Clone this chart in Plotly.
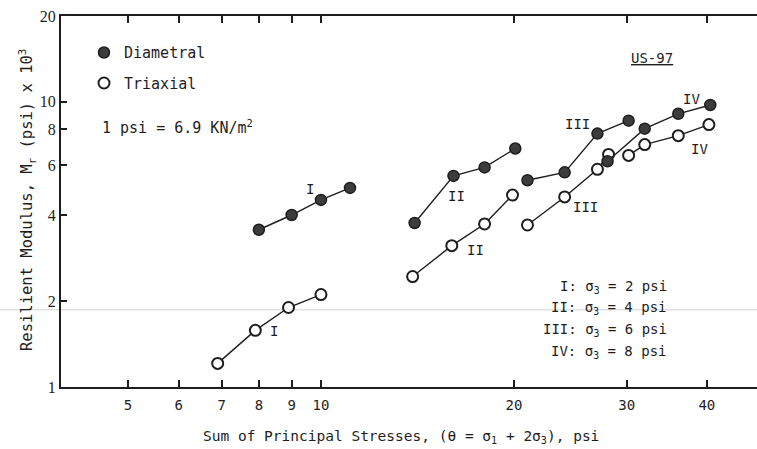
import math
import plotly.graph_objects as go

# ---------------- data ----------------
group_labels = ["I", "II", "III", "IV"]
sigma3_psi = [2, 4, 6, 8]

diam_x = {
    "I": [8, 9, 10, 11.1],
    "II": [14, 16.1, 18, 20.1],
    "III": [21, 24, 27, 30.2],
    "IV": [28, 32, 36.1, 40.5],
}
diam_y = {
    "I": [3.56, 4.01, 4.53, 4.99],
    "II": [3.76, 5.50, 5.89, 6.86],
    "III": [5.31, 5.66, 7.74, 8.59],
    "IV": [6.19, 8.05, 9.08, 9.75],
}
tri_x = {
    "I": [6.9, 7.9, 8.9, 10],
    "II": [13.9, 16, 18, 19.9],
    "III": [21, 24, 27, 28.1],
    "IV": [30.2, 32, 36.1, 40.3],
}
tri_y = {
    "I": [1.21, 1.58, 1.90, 2.11],
    "II": [2.44, 3.13, 3.73, 4.71],
    "III": [3.70, 4.64, 5.80, 6.54],
    "IV": [6.49, 7.08, 7.61, 8.32],
}
# label anchor points (x, y in data units)
diam_label_pos = {"I": (9.6, 4.95), "II": (16.3, 4.67), "III": (25.1, 8.38), "IV": (37.9, 10.2)}
tri_label_pos = {"I": (8.45, 1.57), "II": (17.4, 3.03), "III": (25.9, 4.28), "IV": (38.9, 6.86)}

x_ticks = [5, 6, 7, 8, 9, 10, 20, 30, 40]
y_ticks = [1, 2, 4, 6, 8, 10, 20]
x_range = [3.93, 47.9]
y_range = [1, 20]

# ---------------- layout geometry ----------------
W, H = 757, 449
PL, PR, PT, PB = 61, 757, 15.7, 387.3


def px(xp):
    return (xp - PL) / (PR - PL)


def py(yp):
    return (PB - yp) / (PB - PT)


MONO = "DejaVu Sans Mono"
SERIF = "Liberation Serif"
INK = "#1e1e1e"

fig = go.Figure()

for g in group_labels:
    fig.add_trace(go.Scatter(
        x=tri_x[g], y=tri_y[g], mode="lines+markers", showlegend=False,
        line=dict(color=INK, width=1.4),
        marker=dict(symbol="circle", size=11, color="white",
                    line=dict(color=INK, width=2)),
    ))
for g in group_labels:
    fig.add_trace(go.Scatter(
        x=diam_x[g], y=diam_y[g], mode="lines+markers", showlegend=False,
        line=dict(color=INK, width=1.4),
        marker=dict(symbol="circle", size=11, color="#3c3c3c",
                    line=dict(color=INK, width=1.5)),
    ))

# legend entries
fig.add_trace(go.Scatter(
    x=[None], y=[None], mode="markers", name="Diametral", legendgroup="d",
    marker=dict(symbol="circle", size=11, color="#3c3c3c", line=dict(color=INK, width=1.5)),
))
fig.add_trace(go.Scatter(
    x=[None], y=[None], mode="markers", name="Triaxial", legendgroup="t",
    marker=dict(symbol="circle", size=11, color="white", line=dict(color=INK, width=2)),
))

annotations = []
for g in group_labels:
    lx, ly = diam_label_pos[g]
    annotations.append(dict(x=math.log10(lx), y=math.log10(ly), xref="x", yref="y",
                            text=g, showarrow=False,
                            font=dict(family=MONO, size=14, color=INK)))
    lx, ly = tri_label_pos[g]
    annotations.append(dict(x=math.log10(lx), y=math.log10(ly), xref="x", yref="y",
                            text=g, showarrow=False,
                            font=dict(family=MONO, size=14, color=INK)))

annotations.append(dict(x=px(100), y=py(127), xref="paper", yref="paper",
                        xanchor="left", yanchor="middle", showarrow=False,
                        text="1 psi = 6.9 KN/m<sup>2</sup>",
                        font=dict(family=MONO, size=15, color=INK)))
annotations.append(dict(x=px(652), y=py(58), xref="paper", yref="paper",
                        xanchor="center", yanchor="middle", showarrow=False,
                        text="<u>US-97</u>",
                        font=dict(family=MONO, size=14, color=INK)))

line_y = [287, 308, 330, 352]
for g, s, yp in zip(group_labels, sigma3_psi, line_y):
    annotations.append(dict(x=px(669), y=py(yp), xref="paper", yref="paper",
                            xanchor="right", yanchor="middle", showarrow=False,
                            text=f"{g}: σ<sub>3</sub> = {s} psi",
                            font=dict(family=MONO, size=14, color=INK)))

annotations.append(dict(x=px(401), y=py(437), xref="paper", yref="paper",
                        xanchor="center", yanchor="middle", showarrow=False,
                        text="Sum of Principal Stresses, (θ = σ<sub>1</sub> + 2σ<sub>3</sub>), psi",
                        font=dict(family=MONO, size=14.5, color=INK)))
annotations.append(dict(x=px(27), y=py(200), xref="paper", yref="paper",
                        xanchor="center", yanchor="middle", showarrow=False, textangle=-90,
                        text="Resilient Modulus, M<sub>r</sub> (psi) x 10<sup>3</sup>",
                        font=dict(family=MONO, size=15.5, color=INK)))

fig.update_layout(
    width=W, height=H,
    margin=dict(l=PL, r=W - PR, t=PT, b=H - PB),
    paper_bgcolor="white", plot_bgcolor="white",
    showlegend=True,
    legend=dict(x=px(84), y=py(36), xanchor="left", yanchor="top",
                bgcolor="rgba(0,0,0,0)", tracegroupgap=8, itemwidth=30,
                font=dict(family=MONO, size=15, color=INK)),
    annotations=annotations,
    shapes=[dict(type="line", xref="paper", yref="paper",
                 x0=px(0), x1=px(757), y0=py(310), y1=py(310),
                 line=dict(color="#e2e2e2", width=1.5), layer="below")],
)

fig.update_xaxes(
    type="log", range=[math.log10(x_range[0]), math.log10(x_range[1])],
    tickvals=x_ticks, ticktext=[str(v) for v in x_ticks],
    ticks="inside", ticklen=7, tickwidth=2, tickcolor=INK,
    showline=True, linecolor=INK, linewidth=2, mirror="ticks",
    showgrid=False, zeroline=False, ticklabelstandoff=4,
    tickfont=dict(family=MONO, size=14, color=INK),
)
fig.update_yaxes(
    type="log", range=[math.log10(y_range[0]), math.log10(y_range[1])],
    tickvals=y_ticks, ticktext=[str(v) for v in y_ticks],
    ticks="inside", ticklen=6, tickwidth=2, tickcolor=INK,
    showline=True, linecolor=INK, linewidth=2,
    showgrid=False, zeroline=False,
    tickfont=dict(family=SERIF, size=16, color=INK),
)

fig.write_html("out.html")
